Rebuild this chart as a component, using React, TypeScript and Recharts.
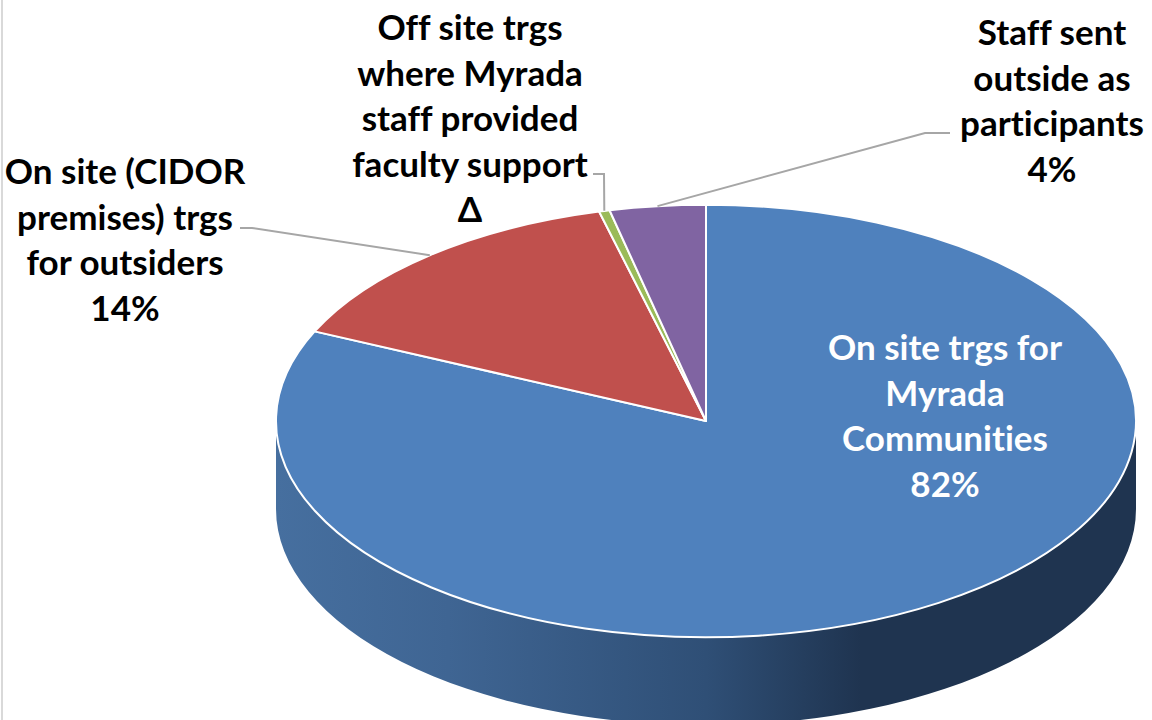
import { Pie, PieChart } from "recharts";

const categories = [
  "On site trgs for Myrada Communities",
  "On site (CIDOR premises) trgs for outsiders",
  "Off site trgs where Myrada staff provided faculty support",
  "Staff sent outside as participants",
];
const values = [81.8, 14.2, 0.4, 3.6];
const colors = ["#4f81bd", "#c0504d", "#9bbb59", "#8064a2"];
const labelLines = [
  ["On site trgs for", "Myrada", "Communities", "82%"],
  ["On site (CIDOR", "premises) trgs", "for outsiders", "14%"],
  ["Off site trgs", "where Myrada", "staff provided", "faculty support", "Δ"],
  ["Staff sent", "outside as", "participants", "4%"],
];
// label block centre x, first baseline y, text colour
const labelX = [945, 125, 470, 1052];
const labelY = [360, 184, 40, 45];
const labelColor = ["#ffffff", "#000000", "#000000", "#000000"];
// leader start points, null means no leader
const leaderStart: Array<Array<[number, number]> | null> = [
  null,
  [[240, 228], [252, 228]],
  [[593, 174], [604, 174]],
  [[950, 133], [925, 133]],
];

const CX = 706;
const CY = 421;
const RX = 430;
const SQUASH = 0.503;
const DEPTH = 88;
const LINE_H = 45.5;

const rad = (a: number) => (a * Math.PI) / 180;
const onRim = (cx: number, cy: number, r: number, a: number) => [
  cx + r * Math.cos(rad(a)),
  cy - r * SQUASH * Math.sin(rad(a)),
];

function FlatSlice(props: any) {
  const { cx, cy, outerRadius: r, startAngle, endAngle, fill } = props;
  const ry = r * SQUASH;
  const [x0, y0] = onRim(cx, cy, r, startAngle);
  const [x1, y1] = onRim(cx, cy, r, endAngle);
  const large = Math.abs(endAngle - startAngle) > 180 ? 1 : 0;
  const d = `M${cx},${cy} L${x0},${y0} A${r},${ry} 0 ${large} 1 ${x1},${y1} Z`;
  return (
    <g>
      {startAngle === 90 && (
        <path
          d={`M${cx - r},${cy} A${r},${ry} 0 0 0 ${cx + r},${cy} L${cx + r},${cy + DEPTH} A${r},${ry} 0 0 1 ${cx - r},${cy + DEPTH} Z`}
          fill="url(#wall)"
        />
      )}
      <path d={d} fill={fill} stroke="#ffffff" strokeWidth={2} strokeLinejoin="round" />
    </g>
  );
}

function SliceLabel(props: any) {
  const { cx, cy, outerRadius, midAngle, index } = props;
  const lead = leaderStart[index];
  const end = onRim(cx, cy, outerRadius, midAngle);
  return (
    <g>
      {lead && (
        <polyline
          points={[...lead, end].map((p) => p.join(",")).join(" ")}
          fill="none"
          stroke="#a6a6a6"
          strokeWidth={2}
        />
      )}
      <text
        textAnchor="middle"
        fontFamily="Lato, Carlito, sans-serif"
        fontWeight={700}
        fontSize={35}
        style={{ fontVariantLigatures: "none" }}
        fill={labelColor[index]}
      >
        {labelLines[index].map((line, i) => (
          <tspan key={line} x={labelX[index]} y={labelY[index] + i * LINE_H}>
            {line}
          </tspan>
        ))}
      </text>
    </g>
  );
}

const pieData = categories.map((name, i) => ({ name, value: values[i], fill: colors[i] }));

export default function App() {
  return (
    <div style={{ position: "absolute", left: 0, top: 0, width: 1152, height: 720, background: "#fff", overflow: "hidden" }}>
      <div style={{ position: "absolute", left: 1, top: 0, width: 2, height: 720, background: "#d9d9d9" }} />
      <PieChart width={1152} height={720} margin={{ top: 0, right: 0, bottom: 0, left: 0 }}>
        <defs>
          <linearGradient id="wall" x1="0" y1="0" x2="1" y2="0">
            <stop offset="0" stopColor="#466f9f" />
            <stop offset="0.2" stopColor="#3f6593" />
            <stop offset="0.5" stopColor="#2f4f76" />
            <stop offset="0.68" stopColor="#1f3450" />
            <stop offset="1" stopColor="#1f3450" />
          </linearGradient>
        </defs>
        <Pie
          data={pieData}
          dataKey="value"
          nameKey="name"
          cx={CX}
          cy={CY}
          innerRadius={0}
          outerRadius={RX}
          startAngle={90}
          endAngle={-270}
          paddingAngle={0}
          stroke="#ffffff"
          isAnimationActive={false}
          shape={FlatSlice}
          label={SliceLabel}
          labelLine={false}
        />
      </PieChart>
    </div>
  );
}
